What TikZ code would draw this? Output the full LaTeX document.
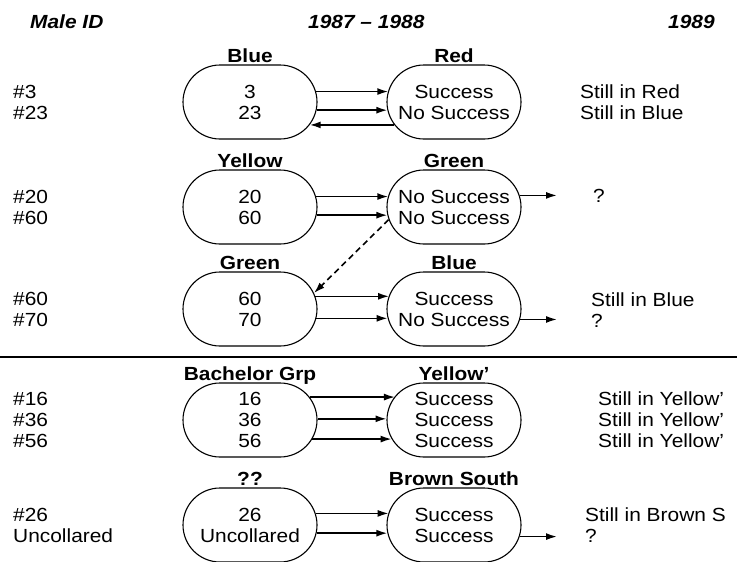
\documentclass[tikz,border=0pt]{standalone}
\usepackage{fontspec}
\setmainfont[FakeStretch=1.1]{Liberation Sans}
\usetikzlibrary{shapes.misc,arrows.meta}
\begin{document}
\begin{tikzpicture}[x=1pt,y=-1pt,
  box/.style={rounded rectangle, draw, line width=1.1pt, minimum width=134pt, minimum height=74pt, inner sep=0pt, align=center, font=\fontsize{19}{21}\selectfont},
  lab/.style={font=\fontsize{19}{21}\selectfont\bfseries, anchor=base, inner sep=0pt},
  hdr/.style={font=\fontsize{19}{21}\selectfont\bfseries\itshape, anchor=base west, inner sep=0pt},
  txt/.style={font=\fontsize{19}{21}\selectfont, anchor=west, inner sep=0pt, align=left},
  arr/.style={-{Latex[length=11pt,width=7pt]}, line width=1.6pt},
  darr/.style={arr, dash pattern=on 6pt off 4pt},
]
\useasboundingbox (0,0) rectangle (737,562);
% headers
\node[hdr] (h1) at (30,28) {Male ID};
\node[hdr] (h2) at (308,28) {1987 – 1988};
\node[hdr] (h3) at (668,28) {1989};
% boxes
\node[box] (L1) at (250,102) {3\\23};
\node[box] (R1) at (454,102) {Success\\No Success};
\node[box] (L2) at (250,207) {20\\60};
\node[box] (R2) at (454,207) {No Success\\No Success};
\node[box] (L3) at (250,309) {60\\70};
\node[box] (R3) at (454,309) {Success\\No Success};
\node[box] (L4) at (250,420) {16\\36\\56};
\node[box] (R4) at (454,420) {Success\\Success\\Success};
\node[box] (L5) at (250,525) {26\\Uncollared};
\node[box] (R5) at (454,525) {Success\\Success};
% box labels
\node[lab] (tL1) at ([yshift=2pt]L1.north) {Blue};
\node[lab] (tR1) at ([yshift=2pt]R1.north) {Red};
\node[lab] (tL2) at ([yshift=2pt]L2.north) {Yellow};
\node[lab] (tR2) at ([yshift=2pt]R2.north) {Green};
\node[lab] (tL3) at ([yshift=2pt]L3.north) {Green};
\node[lab] (tR3) at ([yshift=2pt]R3.north) {Blue};
\node[lab] (tL4) at ([yshift=2pt]L4.north) {Bachelor Grp};
\node[lab] (tR4) at ([yshift=2pt]R4.north) {Yellow'};
\node[lab] (tL5) at ([yshift=2pt]L5.north) {??};
\node[lab] (tR5) at ([yshift=2pt]R5.north) {Brown South};
% left ids
\node[txt] (m1) at (13,102) {\#3\\\#23};
\node[txt] (m2) at (13,207) {\#20\\\#60};
\node[txt] (m3) at (13,309) {\#60\\\#70};
\node[txt] (m4) at (13,420) {\#16\\\#36\\\#56};
\node[txt] (m5) at (13,525) {\#26\\Uncollared};
% right outcomes
\node[txt] (r1) at (580,102) {Still in Red\\Still in Blue};
\node[txt] (r2) at (593,196) {?};
\node[txt] (r3) at (591,310) {Still in Blue\\?};
\node[txt] (r4) at (598,420) {Still in Yellow'\\Still in Yellow'\\Still in Yellow'};
\node[txt] (r5) at (585,525) {Still in Brown S\\?};
% separator
\coordinate (sepA) at (0,357);
\coordinate (sepB) at (737,357);
\draw[line width=1.6pt] (sepA) -- (sepB);
% arrows
\draw[arr] (L1.9.6) -- (L1.9.6 -| R1.170.4);
\draw[arr] (L1.-7.8) -- (L1.-7.8 -| R1.187.8);
\draw[arr] (R1.201.3) -- (R1.201.3 -| L1.-21.3);
\draw[arr] (L2.9.6) -- (L2.9.6 -| R2.170.4);
\draw[arr] (L2.-7.8) -- (L2.-7.8 -| R2.187.8);
\draw[arr] (L3.11.4) -- (L3.11.4 -| R3.168.6);
\draw[arr] (L3.-8.7) -- (L3.-8.7 -| R3.188.7);
\draw[arr] (L4.21.3) -- (L4.21.3 -| R4.158.7);
\draw[arr] (L4.1.7) -- (L4.1.7 -| R4.178.3);
\draw[arr] (L4.-17.1) -- (L4.-17.1 -| R4.197.1);
\draw[arr] (L5.10.5) -- (L5.10.5 -| R5.169.5);
\draw[arr] (L5.-7.8) -- (L5.-7.8 -| R5.187.8);
\draw[darr] (R2.191) -- (L3.14);
% outgoing
\coordinate (oe) at (557,0);
\draw[arr] (R2.10.5) -- (R2.10.5 -| oe);
\draw[arr] (R3.-9.6) -- (R3.-9.6 -| oe);
\draw[arr] (R5.-10.5) -- (R5.-10.5 -| oe);
\end{tikzpicture}
\end{document}
